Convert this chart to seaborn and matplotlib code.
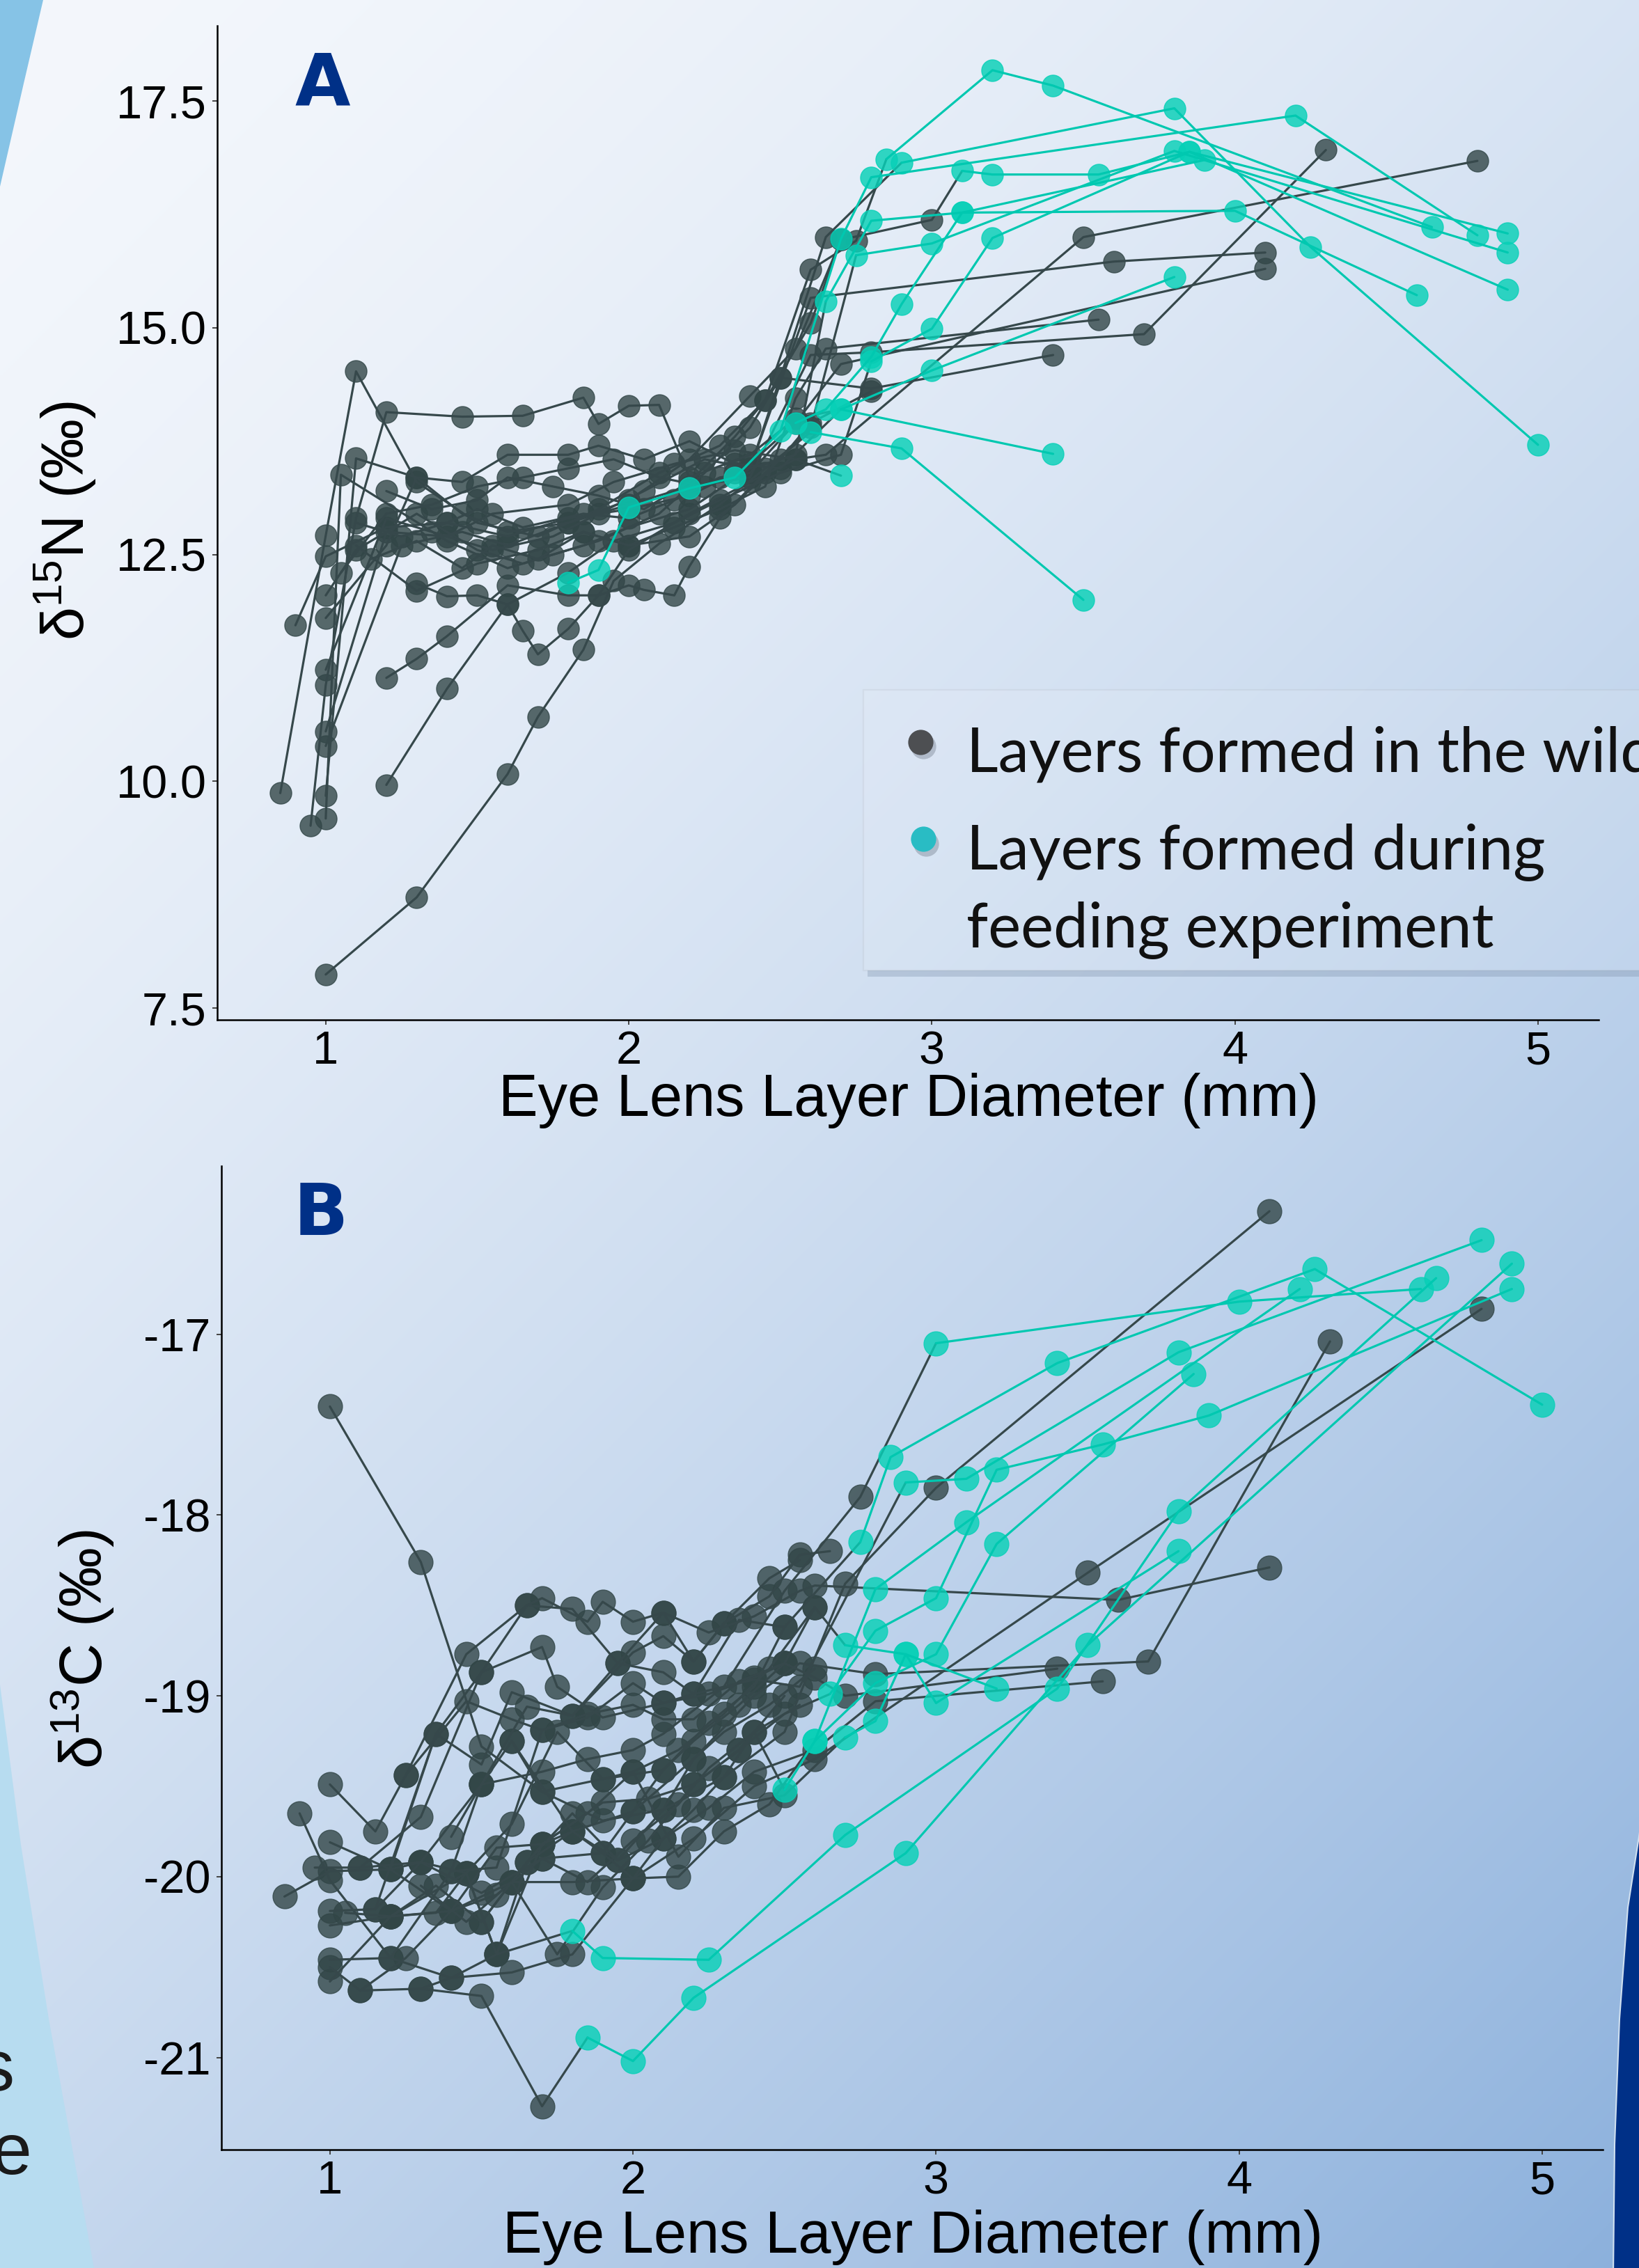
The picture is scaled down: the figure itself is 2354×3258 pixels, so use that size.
import numpy as np
import pandas as pd
import matplotlib
matplotlib.use('Agg')
import matplotlib.pyplot as plt
import seaborn as sns
from matplotlib.patches import Polygon, Rectangle

W, H = 2354, 3258

# Panel A, d15N: one list per fish (layer diameter, value); the first n_wild layers formed in the wild
n15_diam = [
    [1.00, 1.30, 1.60, 1.70, 1.85, 1.95, 2.10, 2.30, 2.45, 2.60, 2.90, 3.50],
    [0.85, 1.00, 1.10, 1.30, 1.50, 1.70, 1.90, 2.10, 2.30, 2.45, 2.60, 2.75, 2.85, 3.20, 3.40, 4.65],
    [0.95, 1.00, 1.10, 1.20, 1.45, 1.65, 1.85, 1.90, 2.00, 2.10, 2.20, 2.40, 2.55, 2.70, 3.00, 3.80],
    [1.00, 1.10, 1.30, 1.45, 1.60, 1.80, 2.00, 2.20, 2.40, 2.55, 2.70, 3.00, 3.10, 3.20, 3.55, 3.85, 4.90],
    [1.00, 1.05, 1.40, 1.60, 1.75, 1.90, 2.10, 2.25, 2.40, 2.50, 2.65, 2.90, 3.80, 4.25, 5.00],
    [1.00, 1.20, 1.40, 1.55, 1.80, 1.95, 2.15, 2.35, 2.55, 2.65, 3.50, 4.80],
    [1.00, 1.25, 1.45, 1.60, 1.80, 2.00, 2.20, 2.40, 2.60, 2.80, 3.70, 4.30],
    [1.00, 1.20, 1.35, 1.55, 1.75, 1.90, 2.05, 2.25, 2.40, 2.60, 3.60, 4.10],
    [0.90, 1.00, 1.20, 1.40, 1.60, 1.80, 2.00, 2.20, 2.35, 2.55, 2.65, 2.80, 3.10, 4.00, 4.60],
    [1.00, 1.10, 1.30, 1.50, 1.65, 1.85, 2.00, 2.20, 2.40, 2.50, 2.80, 3.40],
    [1.00, 1.20, 1.30, 1.45, 1.60, 1.80, 1.90, 2.05, 2.20, 2.35, 2.50, 2.70, 3.40],
    [1.20, 1.40, 1.60, 1.80, 1.95, 2.15, 2.30, 2.50, 2.70, 2.80, 3.00, 3.20, 3.85, 4.90],
    [1.20, 1.30, 1.40, 1.60, 1.80, 1.90, 2.00, 2.05, 2.15, 2.20, 2.30, 2.45, 2.60, 2.75, 3.00, 3.80, 4.90],
    [1.80, 1.90, 2.00, 2.20, 2.35, 2.50, 2.70, 2.80, 4.20, 4.80],
    [1.30, 1.40, 1.50, 1.60, 1.65, 1.70, 1.80, 1.90, 2.00, 2.20, 2.40, 2.55, 2.70],
    [1.10, 1.25, 1.40, 1.50, 1.65, 1.85, 2.00, 2.15, 2.30, 2.40, 2.55, 2.70, 4.10],
    [1.15, 1.30, 1.45, 1.55, 1.70, 1.85, 2.00, 2.15, 2.30, 2.45, 2.55, 2.65, 3.55],
    [1.05, 1.20, 1.35, 1.50, 1.65, 1.80, 1.95, 2.10, 2.25, 2.40, 2.55, 2.65, 2.80, 2.90, 3.10, 3.90],
    [1.10, 1.30, 1.50, 1.70, 1.85, 2.00, 2.20, 2.35, 2.50, 2.60, 2.80],
    [1.20, 1.35, 1.50, 1.60, 1.75, 1.90, 2.05, 2.20, 2.35, 2.45, 2.60, 2.70],
]
n15_value = [
    [7.87, 8.72, 10.08, 10.71, 11.45, 12.21, 12.62, 13.05, 13.45, 13.85, 13.67, 12.00],
    [9.87, 12.71, 14.52, 13.30, 12.85, 12.70, 13.00, 13.40, 13.70, 14.20, 15.64, 15.96, 16.86, 17.84, 17.67, 16.11],
    [9.51, 11.06, 12.90, 14.07, 14.02, 14.03, 14.23, 13.94, 14.14, 14.15, 13.35, 13.60, 14.00, 14.10, 14.53, 15.56],
    [9.84, 13.56, 13.35, 12.95, 12.75, 12.85, 13.10, 13.55, 14.25, 14.77, 15.97, 16.19, 16.73, 16.69, 16.69, 16.94, 16.04],
    [9.59, 13.38, 12.65, 12.35, 12.50, 12.65, 12.95, 13.40, 13.90, 14.45, 16.00, 16.82, 17.42, 15.89, 13.71],
    [10.55, 12.75, 12.70, 12.95, 13.05, 13.30, 13.50, 13.65, 13.55, 13.60, 16.00, 16.84],
    [10.39, 12.60, 12.75, 12.60, 12.85, 13.05, 13.25, 13.35, 14.70, 14.73, 14.93, 16.96],
    [11.23, 12.90, 12.75, 12.55, 12.70, 12.95, 13.20, 13.55, 13.45, 15.33, 15.73, 15.83],
    [11.72, 12.48, 12.80, 12.85, 12.70, 12.90, 13.00, 13.15, 13.40, 13.60, 15.29, 16.18, 16.27, 16.29, 15.36],
    [12.05, 12.55, 12.95, 12.55, 12.40, 12.60, 12.80, 13.00, 13.45, 14.45, 14.33, 14.70],
    [11.80, 12.60, 13.35, 13.30, 13.60, 13.60, 13.70, 13.55, 13.75, 13.50, 13.45, 14.10, 13.61],
    [9.96, 11.02, 11.95, 12.30, 12.65, 12.85, 13.10, 13.40, 13.60, 14.63, 14.99, 15.99, 16.94, 15.42],
    [11.14, 11.35, 11.60, 12.16, 12.05, 12.05, 12.16, 12.11, 12.05, 12.37, 12.90, 13.40, 13.90, 15.80, 15.93, 16.95, 15.83],
    [12.19, 12.33, 13.02, 13.23, 13.35, 13.86, 15.98, 16.66, 17.34, 16.02],
    [12.18, 12.04, 12.05, 11.95, 11.66, 11.40, 11.68, 12.05, 12.55, 12.95, 13.30, 13.55, 13.37],
    [12.85, 12.70, 12.85, 13.00, 12.80, 12.95, 12.90, 13.10, 13.35, 13.40, 13.95, 14.60, 15.65],
    [12.45, 12.65, 12.35, 12.60, 12.45, 12.75, 12.60, 12.80, 13.00, 13.25, 14.22, 14.77, 15.09],
    [12.30, 12.95, 13.05, 13.25, 13.35, 13.45, 13.55, 13.35, 13.25, 13.50, 13.95, 14.10, 14.68, 15.26, 16.27, 16.85],
    [12.60, 12.10, 12.40, 12.55, 12.75, 12.60, 12.70, 13.05, 13.55, 13.95, 14.30],
    [13.20, 13.00, 13.10, 13.35, 13.25, 13.15, 13.00, 13.30, 13.80, 14.20, 15.05, 15.97],
]
n15_wild = [9, 12, 13, 12, 11, 12, 12, 12, 10, 12, 11, 9, 13, 0, 12, 13, 13, 10, 11, 12]

# Panel B, d13C
c13_diam = [
    [1.00, 1.30, 1.50, 1.70, 1.90, 2.10, 2.30, 2.50, 2.70, 3.00, 4.10],
    [0.85, 1.00, 1.20, 1.40, 1.60, 1.80, 2.00, 2.20, 2.40, 2.60, 3.50, 4.80],
    [0.90, 1.00, 1.20, 1.40, 1.50, 1.70, 1.85, 2.00, 2.10, 2.30, 2.50, 2.75, 3.00, 4.00, 4.60],
    [1.00, 1.15, 1.25, 1.45, 1.65, 1.70, 1.85, 1.90, 2.00, 2.10, 2.25, 2.40, 2.55, 2.60, 3.60, 4.10],
    [0.95, 1.10, 1.30, 1.50, 1.70, 1.75, 1.90, 2.10, 2.20, 2.35, 2.50, 2.75, 2.85, 3.40, 4.25, 5.00],
    [1.00, 1.15, 1.35, 1.50, 1.60, 1.80, 1.95, 2.10, 2.20, 2.40, 2.55, 2.90, 3.10, 3.80, 4.80],
    [1.00, 1.20, 1.40, 1.55, 1.70, 1.90, 2.05, 2.20, 2.35, 2.50, 2.65, 2.80, 3.00, 3.20, 3.55, 3.90, 4.90],
    [1.00, 1.20, 1.40, 1.60, 1.80, 2.00, 2.15, 2.30, 2.45, 2.60, 2.80, 3.10, 4.20],
    [1.00, 1.10, 1.30, 1.50, 1.70, 1.85, 2.00, 2.20, 2.90, 3.50, 4.90],
    [1.00, 1.20, 1.45, 1.55, 1.80, 1.90, 2.25, 2.70, 3.40, 3.80, 4.65],
    [1.10, 1.30, 1.50, 1.70, 1.90, 2.00, 2.20, 2.40, 2.55, 2.80, 3.70, 4.30],
    [1.20, 1.35, 1.50, 1.65, 1.80, 1.95, 2.10, 2.25, 2.40, 2.60, 2.80, 3.55],
    [1.15, 1.30, 1.45, 1.60, 1.75, 1.90, 2.10, 2.20, 2.35, 2.50, 2.60, 2.70, 2.90, 3.00, 3.80],
    [1.25, 1.45, 1.60, 1.70, 1.85, 2.00, 2.10, 2.20, 2.35, 2.50, 2.60, 2.70, 3.40],
    [1.30, 1.40, 1.55, 1.65, 1.80, 1.95, 2.10, 2.20, 2.30, 2.45, 2.60],
    [1.40, 1.50, 1.65, 1.80, 2.00, 2.10, 2.20, 2.30, 2.45, 2.55, 2.65],
    [1.50, 1.60, 1.70, 1.80, 1.90, 2.00, 2.10, 2.20, 2.30, 2.40, 2.50, 2.60, 2.80, 3.00, 3.20, 3.85],
    [1.60, 1.70, 1.90, 2.00, 2.15, 2.30, 2.50, 2.70, 2.80, 2.90, 3.20],
    [1.00, 1.20, 1.30, 1.50, 1.60, 1.80, 2.00, 2.10, 2.25, 2.40, 2.50],
    [1.05, 1.20, 1.35, 1.45, 1.55, 1.70, 1.85, 2.00, 2.15, 2.30, 2.45, 2.60],
    [1.10, 1.25, 1.40, 1.55, 1.70, 1.85, 2.00, 2.15, 2.25, 2.40, 2.55],
    [1.30, 1.45, 1.60, 1.75, 1.90, 2.05, 2.20, 2.35, 2.50],
    [1.20, 1.35, 1.50, 1.65, 1.80, 1.95, 2.10, 2.20, 2.30, 2.45, 2.55],
    [1.40, 1.55, 1.70, 1.85, 2.00, 2.10, 2.25, 2.40, 2.50],
]
c13_value = [
    [-17.40, -18.26, -19.28, -19.53, -19.69, -19.63, -19.45, -19.20, -18.38, -17.85, -16.32],
    [-20.11, -19.97, -19.96, -20.19, -20.03, -20.03, -20.01, -19.79, -19.50, -19.35, -18.32, -16.86],
    [-19.65, -20.02, -20.45, -19.97, -19.49, -19.42, -19.35, -19.30, -19.21, -18.95, -18.42, -17.90, -17.05, -16.82, -16.75],
    [-19.49, -19.75, -19.44, -18.77, -18.50, -18.46, -18.59, -18.48, -18.59, -18.54, -18.65, -18.56, -18.42, -18.39, -18.47, -18.29],
    [-19.95, -19.95, -19.67, -18.87, -18.73, -18.95, -19.12, -19.04, -18.99, -18.58, -18.62, -18.15, -17.68, -17.16, -16.64, -17.39],
    [-20.19, -20.18, -19.21, -19.38, -18.98, -19.11, -18.82, -18.87, -18.99, -18.91, -18.95, -17.82, -17.80, -17.10, -16.48],
    [-20.27, -20.22, -20.19, -19.84, -19.82, -19.59, -19.57, -19.49, -19.30, -19.10, -18.99, -18.64, -18.46, -17.75, -17.61, -17.45, -16.75],
    [-20.46, -20.45, -20.56, -20.53, -20.43, -20.01, -20.00, -19.75, -19.60, -19.25, -18.41, -18.04, -16.75],
    [-20.50, -20.63, -20.62, -20.66, -21.27, -20.89, -21.02, -20.67, -19.87, -18.72, -16.61],
    [-20.58, -20.22, -19.98, -20.43, -20.30, -20.45, -20.46, -19.77, -18.96, -17.98, -16.69],
    [-19.95, -19.92, -20.09, -19.90, -19.87, -19.64, -19.35, -19.00, -18.82, -18.88, -18.81, -17.04],
    [-20.22, -20.05, -20.25, -19.92, -19.75, -19.91, -19.79, -19.62, -19.42, -19.30, -19.03, -18.92],
    [-20.18, -19.92, -19.98, -19.71, -19.20, -19.46, -19.41, -19.25, -19.05, -18.82, -18.51, -18.72, -18.77, -19.04, -18.20],
    [-19.44, -19.03, -19.13, -19.19, -19.10, -19.05, -19.13, -19.13, -18.92, -18.82, -18.90, -19.00, -18.85],
    [-20.62, -20.56, -20.43, -19.92, -19.65, -19.91, -19.63, -19.35, -19.20, -19.05, -18.85],
    [-19.78, -19.49, -19.06, -19.11, -18.76, -18.67, -18.81, -18.60, -18.45, -18.22, -18.20],
    [-20.25, -20.03, -19.82, -19.75, -19.87, -20.01, -19.79, -19.63, -19.45, -19.20, -19.52, -19.25, -18.93, -18.77, -18.16, -17.22],
    [-19.25, -19.53, -19.46, -19.42, -19.89, -19.62, -19.55, -19.23, -19.14, -18.77, -18.96],
    [-19.81, -19.96, -19.92, -19.49, -19.25, -19.75, -19.64, -19.41, -19.15, -18.95, -18.62],
    [-20.20, -20.22, -20.20, -19.98, -20.43, -19.82, -19.65, -19.42, -19.30, -19.10, -18.85, -18.51],
    [-20.63, -20.45, -20.19, -20.10, -19.90, -20.03, -19.80, -19.60, -19.40, -19.20, -19.05],
    [-20.05, -20.25, -20.03, -20.43, -20.06, -19.80, -19.49, -19.30, -19.00],
    [-19.96, -19.21, -18.87, -18.50, -18.52, -18.82, -18.54, -18.81, -18.60, -18.35, -18.25],
    [-19.97, -19.95, -19.19, -19.12, -18.93, -19.04, -18.99, -18.90, -18.82],
]
c13_wild = [11, 12, 12, 16, 11, 11, 10, 9, 5, 4, 12, 12, 11, 13, 11, 11, 10, 7, 11, 12, 11, 9, 11, 9]

x_ticks = [1, 2, 3, 4, 5]
n15_ticks = [7.5, 10.0, 12.5, 15.0, 17.5]
c13_ticks = [-21, -20, -19, -18, -17]
xlabel = 'Eye Lens Layer Diameter (mm)'
legend_labels = ['Layers formed in the wild', 'Layers formed during', 'feeding experiment']

DARK = '#324647'
DARK_LINE = '#36484b'
CYAN = '#07d0b7'
CYAN_LINE = '#00c8b0'
NAVY = '#003087'


def long_table(diams, values, n_wild):
    rows = []
    for fish, (xs, ys, k) in enumerate(zip(diams, values, n_wild)):
        for i, (x, y) in enumerate(zip(xs, ys)):
            rows.append({'fish': fish, 'layer': i, 'diam': x, 'value': y,
                         'stage': 'wild' if i < k else 'exp'})
    return pd.DataFrame(rows)


def path_table(pts, n_wild):
    # a segment takes the colour of the layer it starts from
    parts = []
    for fish, g in pts.groupby('fish'):
        k = n_wild[fish]
        g = g.sort_values('layer')
        if k > 0:
            w = g.iloc[:k + 1].copy()
            w['stage'] = 'wild'
            parts.append(w)
        if k < len(g):
            c = g.iloc[k:].copy()
            c['stage'] = 'exp'
            parts.append(c)
    return pd.concat(parts)


def draw_panel(ax, diams, values, n_wild, size):
    pts = long_table(diams, values, n_wild)
    paths = path_table(pts, n_wild)
    sns.scatterplot(data=pts[pts.stage == 'wild'], x='diam', y='value', color=DARK,
                    alpha=0.8, s=size, edgecolor=DARK, linewidth=1, ax=ax, legend=False, zorder=2)
    sns.lineplot(data=paths[paths.stage == 'wild'], x='diam', y='value', units='fish',
                 estimator=None, sort=False, color=DARK_LINE, lw=2.3, ax=ax, legend=False, zorder=3)
    sns.scatterplot(data=pts[pts.stage == 'exp'], x='diam', y='value', color=CYAN,
                    alpha=0.82, s=size, edgecolor=CYAN, linewidth=1, ax=ax, legend=False, zorder=4)
    sns.lineplot(data=paths[paths.stage == 'exp'], x='diam', y='value', units='fish',
                 estimator=None, sort=False, color=CYAN_LINE, lw=2.3, ax=ax, legend=False, zorder=5)


sns.set_theme(style='ticks')
plt.rcParams['font.family'] = ['Liberation Sans', 'DejaVu Sans']
plt.rcParams['mathtext.fontset'] = 'custom'
plt.rcParams['mathtext.rm'] = 'Liberation Sans'
plt.rcParams['mathtext.default'] = 'regular'
plt.rcParams['axes.unicode_minus'] = False

fig = plt.figure(figsize=(W / 100, H / 100), dpi=100)

# background: diagonal gradient plus the poster shapes around the figure
bg = fig.add_axes([0, 0, 1, 1], zorder=-10)
bg.set_xlim(0, W)
bg.set_ylim(H, 0)
bg.axis('off')
yy, xx = np.mgrid[0:H:6, 0:W:6]
t = (((xx + yy) / (W + H)) ** 1.5)[..., None]
c0 = np.array([0.957, 0.969, 0.988])
c1 = np.array([0.545, 0.690, 0.863])
bg.imshow(c0 + (c1 - c0) * t, extent=[0, W, H, 0], aspect='auto', interpolation='bilinear', zorder=0)
bg.add_patch(Polygon([(0, 0), (62, 0), (34, 120), (0, 268)], closed=True, fc='#86c3e6', ec='none', zorder=1))
bg.add_patch(Polygon([(0, 2420), (30, 2650), (70, 2900), (135, 3258), (0, 3258)], closed=True,
                     fc='#b7dcf0', ec='none', zorder=1))
bg.add_patch(Polygon([(2360, 2600), (2338, 2740), (2326, 2900), (2319, 3080), (2317, 3270), (2360, 3270)],
                     closed=True, fc=NAVY, ec='#d0e0f0', lw=1.5, zorder=2))
# fragments of poster text that sit behind the figure's left edge
bg.text(20, 2976, 's', fontsize=75, ha='right', va='center', color='#1a1a1a', zorder=3)
bg.text(45, 3096, 'e', fontsize=75, ha='right', va='center', color='#1a1a1a', zorder=3)

axA = fig.add_axes([312 / W, 1 - 1465 / H, 1984 / W, 1428 / H])
axB = fig.add_axes([318 / W, 1 - 3088 / H, 1984 / W, 1413 / H])

draw_panel(axA, n15_diam, n15_value, n15_wild, 500)
draw_panel(axB, c13_diam, c13_value, c13_wild, 630)

for ax, yt, ylim, ylab, lab, ycoords, labpos in [
        (axA, n15_ticks, (7.37, 18.33), 'δ$^{15}$N (‰)', 'A', (-0.110, 0.502), (0.076, 0.940)),
        (axB, c13_ticks, (-21.51, -16.07), 'δ$^{13}$C (‰)', 'B', (-0.100, 0.509), (0.072, 0.950))]:
    ax.set_facecolor('none')
    ax.set_xlim(0.642, 5.2)
    ax.set_ylim(*ylim)
    ax.set_xticks(x_ticks)
    ax.set_xticklabels([str(v) for v in x_ticks])
    ax.set_yticks(yt)
    if ax is axA:
        ax.set_yticklabels(['%.1f' % v for v in yt])
    else:
        ax.set_yticklabels([str(v) for v in yt])
    sns.despine(ax=ax)
    for s in ['left', 'bottom']:
        ax.spines[s].set_color('black')
        ax.spines[s].set_linewidth(1.8)
    ax.tick_params(length=5, width=1.4, color='#444444', labelsize=48, pad=6, labelcolor='black')
    ax.set_xlabel(xlabel, fontsize=61, color='black')
    ax.xaxis.set_label_coords(0.5005, -0.081 if ax is axA else -0.089)
    ax.xaxis.label.set_va('center')
    ax.set_ylabel(ylab, fontsize=62, color='black')
    ax.yaxis.set_label_coords(*ycoords)
    ax.yaxis.label.set_va('center')
    ax.text(labpos[0], labpos[1], lab, transform=ax.transAxes, fontsize=74, fontweight='heavy',
            family='DejaVu Sans', color=NAVY, ha='center', va='center')

# legend box, partly running off the right edge as in the poster
top = fig.add_axes([0, 0, 1, 1], zorder=10)
top.set_xlim(0, W)
top.set_ylim(H, 0)
top.axis('off')
top.add_patch(Rectangle((1246, 1394), 1200, 9, fc='#7f93ad', alpha=0.35, ec='none'))
top.add_patch(Rectangle((1240, 991), 1200, 403, fc='white', alpha=0.10, ec='#8a8a8a', lw=1.6))
top.scatter([1326, 1330], [1072, 1212], s=680, c='#7d8796', alpha=0.45, linewidths=0)
top.scatter([1322], [1066], s=680, c='#4d4f52', linewidths=0)
top.scatter([1326], [1205], s=680, c='#29bcc4', linewidths=0)
for txt, yb in zip(legend_labels, [1108, 1249, 1361]):
    top.text(1388, yb, txt, fontsize=64, family=['Lato', 'DejaVu Sans'], color='#111111',
             ha='left', va='baseline')

fig.savefig('out.png', dpi=100)
